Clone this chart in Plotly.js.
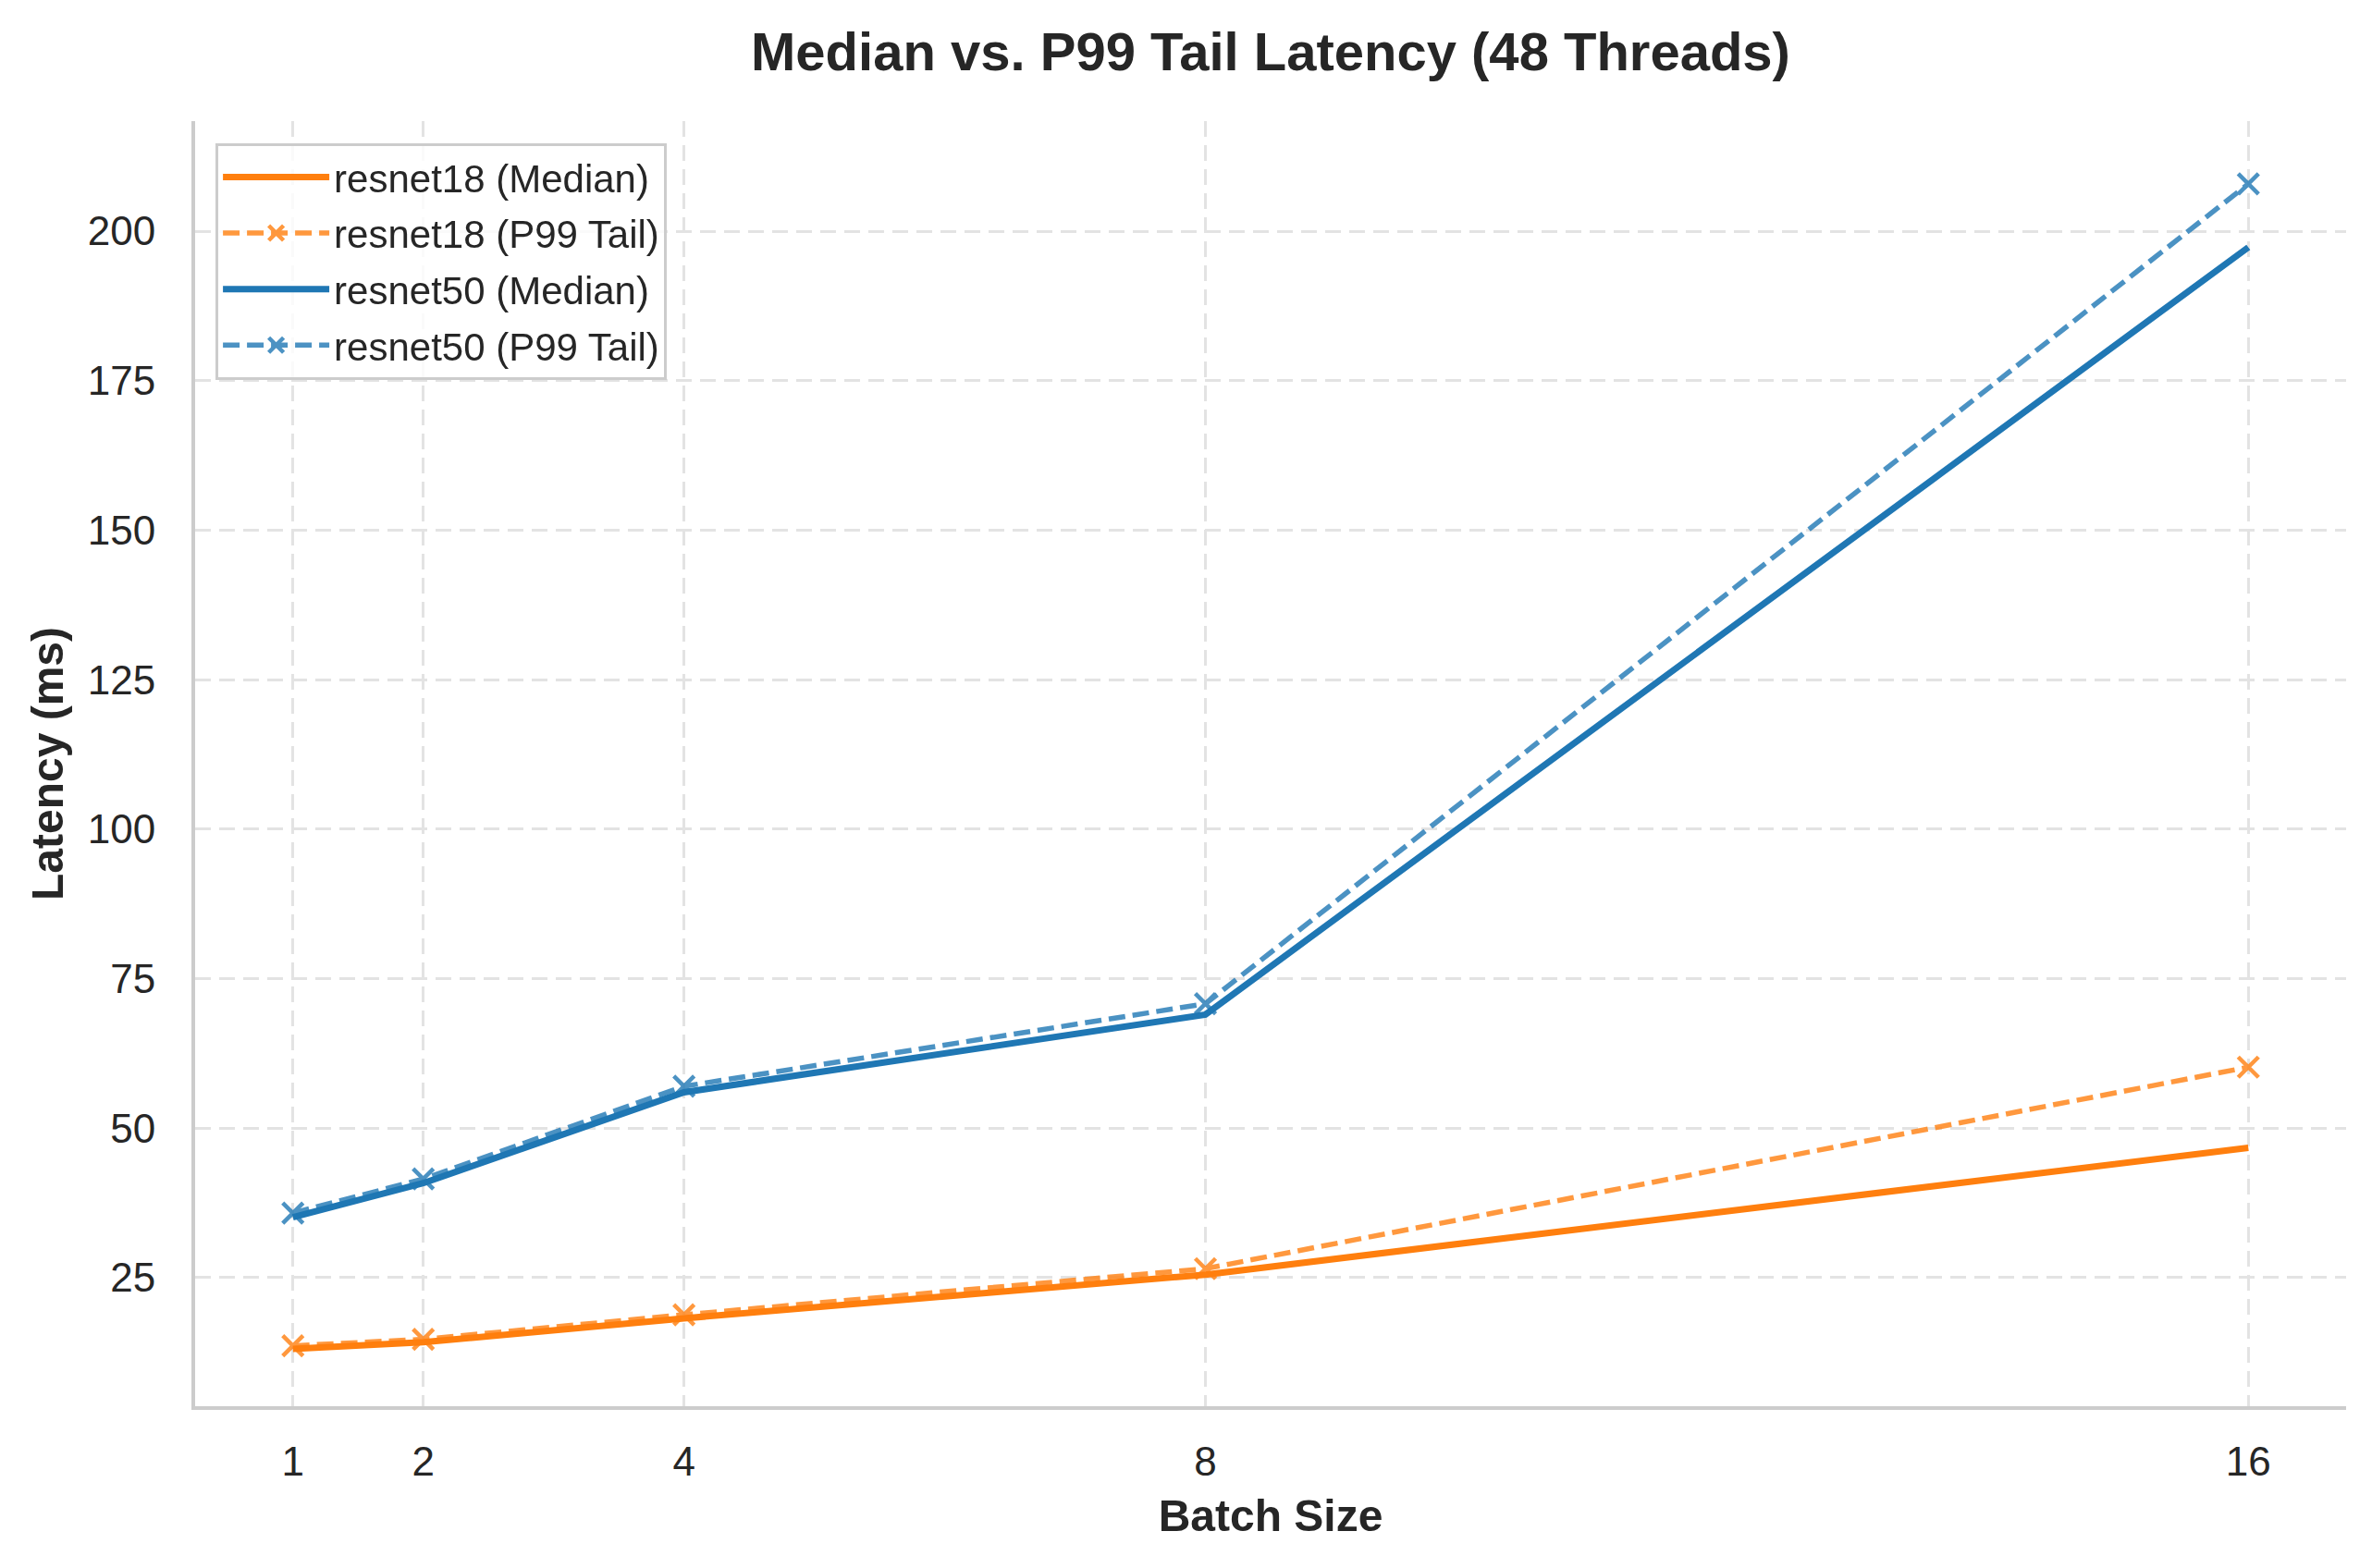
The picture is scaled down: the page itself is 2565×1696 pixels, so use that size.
<!DOCTYPE html>
<html>
<head>
<meta charset="utf-8">
<script src="https://cdn.plot.ly/plotly-3.0.1.min.js"></script>
<style>html,body{margin:0;padding:0;background:#fff;}#chart{width:2565px;height:1696px;}</style>
</head>
<body>
<div id="chart"></div>
<script>
const batchSizes = [1, 2, 4, 8, 16];
const resnet18Median = [13.1, 14.2, 18.2, 25.5, 46.7];
const resnet18P99 = [13.6, 14.7, 18.8, 26.5, 60.2];
const resnet50Median = [35.1, 40.8, 56.0, 69.0, 197.3];
const resnet50P99 = [35.8, 41.5, 57.0, 70.8, 207.9];
const yTicks = [25, 50, 75, 100, 125, 150, 175, 200];

const ORANGE = '#ff7f0e';
const BLUE = '#1f77b4';
const FONT = 'Liberation Sans, Arial, sans-serif';
const TXT = '#262626';

function medianTrace(name, y, color) {
  return {x: batchSizes, y: y, name: name, type: 'scatter', mode: 'lines',
    line: {color: color, width: 7}, legendgroup: name};
}
function tailTrace(name, y, color) {
  return {x: batchSizes, y: y, name: name, type: 'scatter', mode: 'lines+markers',
    opacity: 0.8, legendgroup: name,
    line: {color: color, width: 5.5, dash: '18px,8px'},
    marker: {symbol: 'x-thin', size: 22, line: {color: color, width: 4.5}, color: color}};
}

const data = [
  medianTrace('resnet18 (Median)', resnet18Median, ORANGE),
  tailTrace('resnet18 (P99 Tail)', resnet18P99, ORANGE),
  medianTrace('resnet50 (Median)', resnet50Median, BLUE),
  tailTrace('resnet50 (P99 Tail)', resnet50P99, BLUE)
];

const layout = {
  width: 2565, height: 1696,
  margin: {l: 211, r: 28, t: 131, b: 175},
  paper_bgcolor: '#ffffff', plot_bgcolor: '#ffffff',
  font: {family: FONT, color: TXT},
  title: {text: '<b>Median vs. P99 Tail Latency (48 Threads)</b>',
    font: {family: FONT, size: 58, color: TXT},
    x: 0.5, xref: 'paper', y: 1 - 56/1696, yref: 'container', yanchor: 'middle'},
  xaxis: {
    range: [0.25, 16.75], tickvals: batchSizes, ticktext: batchSizes.map(String),
    showline: true, linecolor: '#cccccc', linewidth: 4, mirror: false,
    zeroline: false, ticks: '', ticklabelstandoff: 18,
    showgrid: true, gridcolor: '#e3e3e3', gridwidth: 3, griddash: '17px,9px',
    tickfont: {family: FONT, size: 44, color: TXT},
    title: {text: '<b>Batch Size</b>', font: {family: FONT, size: 48, color: TXT}, standoff: 20}
  },
  yaxis: {
    range: [3.5, 218.4], tickvals: yTicks,
    showline: true, linecolor: '#cccccc', linewidth: 4, mirror: false,
    zeroline: false, ticks: '', ticklabelstandoff: 30,
    showgrid: true, gridcolor: '#e3e3e3', gridwidth: 3, griddash: '17px,9px',
    tickfont: {family: FONT, size: 44, color: TXT},
    title: {text: '<b>Latency (ms)</b>', font: {family: FONT, size: 48, color: TXT}, standoff: 12}
  },
  legend: {
    x: 0.0095, y: 0.983, xanchor: 'left', yanchor: 'top',
    bgcolor: 'rgba(255,255,255,0.8)', bordercolor: '#cccccc', borderwidth: 3,
    font: {family: FONT, size: 42, color: TXT},
    traceorder: 'grouped', tracegroupgap: 3, itemwidth: 115
  },
  showlegend: true
};

Plotly.newPlot('chart', data, layout, {displayModeBar: false, staticPlot: true});
</script>
</body>
</html>
